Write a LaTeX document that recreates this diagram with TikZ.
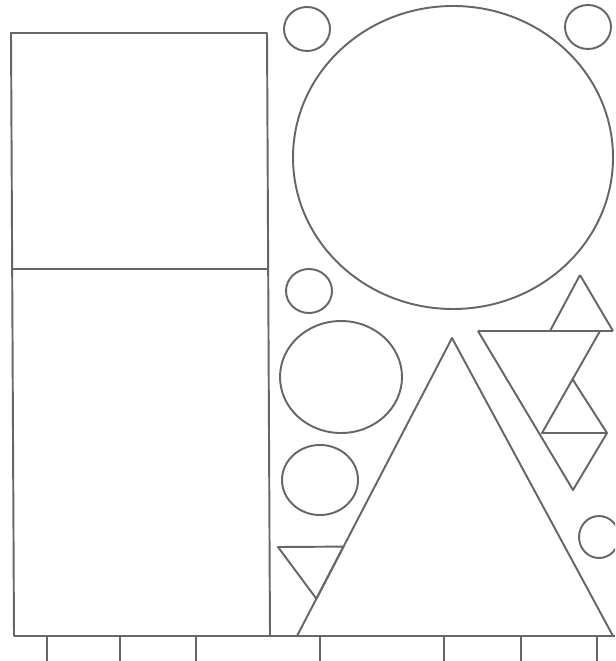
\documentclass[tikz,border=0pt]{standalone}
\usepackage{tikz}
\usetikzlibrary{calc}

\begin{document}
\begin{tikzpicture}[x=0.02cm,y=-0.02cm,line join=round,
  outl/.style={draw=black!60,line width=1.1pt}]
\useasboundingbox (0,0) rectangle (615,661);
\clip (0,0) rectangle (615,661);
% left boxes
\coordinate (lt) at (11,33); \coordinate (rt) at (267,33);
\coordinate (rb) at (270,636); \coordinate (lb) at (14,636);
\draw[outl] (lt) -- (rt) -- (rb) -- (lb) -- cycle;
\draw[outl] (11,269) -- (268,269);
% ground line and ticks
\coordinate (g1) at (14,636); \coordinate (g2) at (615,636);
\draw[outl] (g1) -- (g2);
\foreach \x in {47,120,196,320,444,521,597} \draw[outl] (\x,636) -- (\x,661);
% circles
\draw[outl] (453,157.5) ellipse [x radius=160,y radius=151.5];
\draw[outl] (307,29) ellipse [x radius=23,y radius=22];
\draw[outl] (588,27) ellipse [x radius=23,y radius=22];
\draw[outl] (309,291) ellipse [x radius=23,y radius=22];
\draw[outl] (341,377) ellipse [x radius=61,y radius=56];
\draw[outl] (320,480) ellipse [x radius=38,y radius=35];
\draw[outl] (599,537) ellipse [x radius=20,y radius=21];
% big triangle
\coordinate (ta) at (452,338); \coordinate (tl) at (297,636); \coordinate (tr) at (613,636);
\draw[outl] (ta) -- (tl) -- (tr) -- cycle;
\coordinate (sa) at (278,547); \coordinate (sb) at ($(ta)!0.70!(tl)$); \coordinate (sc) at ($(ta)!0.875!(tl)$);
\draw[outl] (sa) -- (sb) -- (sc) -- cycle;
% triangles on the right
\coordinate (u1) at (580,275); \coordinate (u2) at (550,331); \coordinate (u3) at (613,331);
\coordinate (v1) at (478,331); \coordinate (v2) at (600,331); \coordinate (v3) at (542,433);
\coordinate (w1) at (573,380); \coordinate (w3) at (607,433); \coordinate (w4) at (573,490);
\draw[outl] (u1) -- (u2) (u1) -- (u3);
\draw[outl] (v1) -- (u3);
\draw[outl] (v2) -- (v3) -- (w3) -- (w1);
\draw[outl] (v1) -- (w4) -- (w3);
\end{tikzpicture}
\end{document}
